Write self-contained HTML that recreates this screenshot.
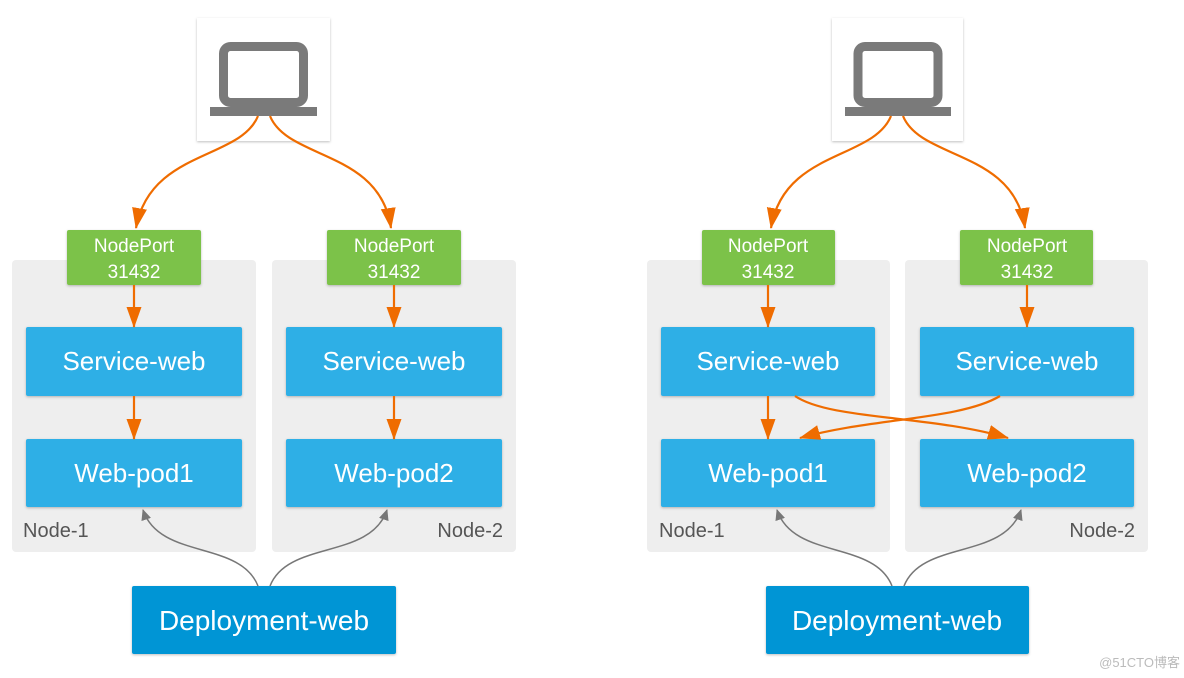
<!DOCTYPE html>
<html><head><meta charset="utf-8"><style>
html,body{margin:0;padding:0;background:#fff;}
svg{display:block;font-family:"Liberation Sans","Noto Sans CJK SC",sans-serif;}
</style></head><body>
<svg width="1184" height="678" viewBox="0 0 1184 678" xmlns="http://www.w3.org/2000/svg">
<defs>
<marker id="o" markerWidth="22" markerHeight="16" refX="20" refY="7.5" orient="auto" markerUnits="userSpaceOnUse"><path d="M0,0 L21,7.5 L0,15 z" fill="#ef6c00"/></marker>
<marker id="g" markerWidth="12" markerHeight="12" refX="10" refY="5" orient="auto" markerUnits="userSpaceOnUse"><path d="M0,0 L11,5 L0,10 z" fill="#777"/></marker>
<filter id="sh" x="-10%" y="-10%" width="120%" height="130%"><feDropShadow dx="0" dy="1" stdDeviation="1.2" flood-color="#000" flood-opacity="0.25"/></filter>
</defs>
<!-- LEFT -->
<rect x="12" y="260" width="244" height="292" rx="4" fill="#eeeeee"/>
<rect x="272" y="260" width="244" height="292" rx="4" fill="#eeeeee"/>
<rect x="197" y="18" width="133" height="123" fill="#fff" filter="url(#sh)"/>
<rect x="223.5" y="46.5" width="80" height="56" rx="7" fill="none" stroke="#7a7a7a" stroke-width="9"/>
<rect x="210" y="107" width="107" height="9" fill="#7a7a7a"/>
<rect x="67" y="230" width="134" height="55" rx="2" fill="#7cc248" filter="url(#sh)"/>
<rect x="327" y="230" width="134" height="55" rx="2" fill="#7cc248" filter="url(#sh)"/>
<g fill="#fff" font-size="19" text-anchor="middle">
<text x="134" y="252">NodePort</text><text x="134" y="278">31432</text>
<text x="394" y="252">NodePort</text><text x="394" y="278">31432</text>
</g>
<g font-size="26" fill="#fff" text-anchor="middle">
<rect x="26" y="327" width="216" height="69" rx="2" fill="#2dafe6" filter="url(#sh)"/>
<rect x="286" y="327" width="216" height="69" rx="2" fill="#2dafe6" filter="url(#sh)"/>
<rect x="26" y="439" width="216" height="68" rx="2" fill="#2dafe6" filter="url(#sh)"/>
<rect x="286" y="439" width="216" height="68" rx="2" fill="#2dafe6" filter="url(#sh)"/>
<rect x="132" y="586" width="264" height="68" rx="2" fill="#0595d5" filter="url(#sh)"/>
<text x="134" y="370">Service-web</text>
<text x="394" y="370">Service-web</text>
<text x="134" y="482">Web-pod1</text>
<text x="394" y="482">Web-pod2</text>
<text x="264" y="630" font-size="28">Deployment-web</text>
</g>
<text x="23" y="537" font-size="20" fill="#555">Node-1</text>
<text x="503" y="537" font-size="20" fill="#555" text-anchor="end">Node-2</text>
<g fill="none" stroke="#ef6c00" stroke-width="2.2">
<path d="M258,116 C240,160 150,150 136,228" marker-end="url(#o)"/>
<path d="M270,116 C288,160 380,150 391,228" marker-end="url(#o)"/>
<path d="M134,285 V327" marker-end="url(#o)"/>
<path d="M394,285 V327" marker-end="url(#o)"/>
<path d="M134,396 V439" marker-end="url(#o)"/>
<path d="M394,396 V439" marker-end="url(#o)"/>
</g>
<g fill="none" stroke="#777" stroke-width="1.5">
<path d="M258,586 C240,540 160,560 143,510" marker-end="url(#g)"/>
<path d="M270,586 C288,540 370,560 387,510" marker-end="url(#g)"/>
</g>

<!-- RIGHT -->
<rect x="647" y="260" width="243" height="292" rx="4" fill="#eeeeee"/>
<rect x="905" y="260" width="243" height="292" rx="4" fill="#eeeeee"/>
<rect x="832" y="18" width="131" height="123" fill="#fff" filter="url(#sh)"/>
<rect x="858" y="46.5" width="80" height="56" rx="7" fill="none" stroke="#7a7a7a" stroke-width="9"/>
<rect x="845" y="107" width="106" height="9" fill="#7a7a7a"/>
<rect x="702" y="230" width="133" height="55" rx="2" fill="#7cc248" filter="url(#sh)"/>
<rect x="960" y="230" width="133" height="55" rx="2" fill="#7cc248" filter="url(#sh)"/>
<g fill="#fff" font-size="19" text-anchor="middle">
<text x="768" y="252">NodePort</text><text x="768" y="278">31432</text>
<text x="1027" y="252">NodePort</text><text x="1027" y="278">31432</text>
</g>
<g font-size="26" fill="#fff" text-anchor="middle">
<rect x="661" y="327" width="214" height="69" rx="2" fill="#2dafe6" filter="url(#sh)"/>
<rect x="920" y="327" width="214" height="69" rx="2" fill="#2dafe6" filter="url(#sh)"/>
<rect x="661" y="439" width="214" height="68" rx="2" fill="#2dafe6" filter="url(#sh)"/>
<rect x="920" y="439" width="214" height="68" rx="2" fill="#2dafe6" filter="url(#sh)"/>
<rect x="766" y="586" width="263" height="68" rx="2" fill="#0595d5" filter="url(#sh)"/>
<text x="768" y="370">Service-web</text>
<text x="1027" y="370">Service-web</text>
<text x="768" y="482">Web-pod1</text>
<text x="1027" y="482">Web-pod2</text>
<text x="897" y="630" font-size="28">Deployment-web</text>
</g>
<text x="659" y="537" font-size="20" fill="#555">Node-1</text>
<text x="1135" y="537" font-size="20" fill="#555" text-anchor="end">Node-2</text>
<g fill="none" stroke="#ef6c00" stroke-width="2.2">
<path d="M891,116 C873,160 784,150 771,228" marker-end="url(#o)"/>
<path d="M903,116 C921,160 1014,150 1025,228" marker-end="url(#o)"/>
<path d="M768,285 V327" marker-end="url(#o)"/>
<path d="M1027,285 V327" marker-end="url(#o)"/>
<path d="M768,396 V439" marker-end="url(#o)"/>
<path d="M795,396 C830,420 930,415 1008,438" marker-end="url(#o)"/>
<path d="M1000,396 C960,420 870,418 800,438" marker-end="url(#o)"/>
</g>
<g fill="none" stroke="#777" stroke-width="1.5">
<path d="M892,586 C874,540 794,560 777,510" marker-end="url(#g)"/>
<path d="M904,586 C922,540 1004,560 1021,510" marker-end="url(#g)"/>
</g>
<text x="1180" y="667" font-size="13" fill="#bbb" text-anchor="end">@51CTO博客</text>
</svg>
</body></html>
